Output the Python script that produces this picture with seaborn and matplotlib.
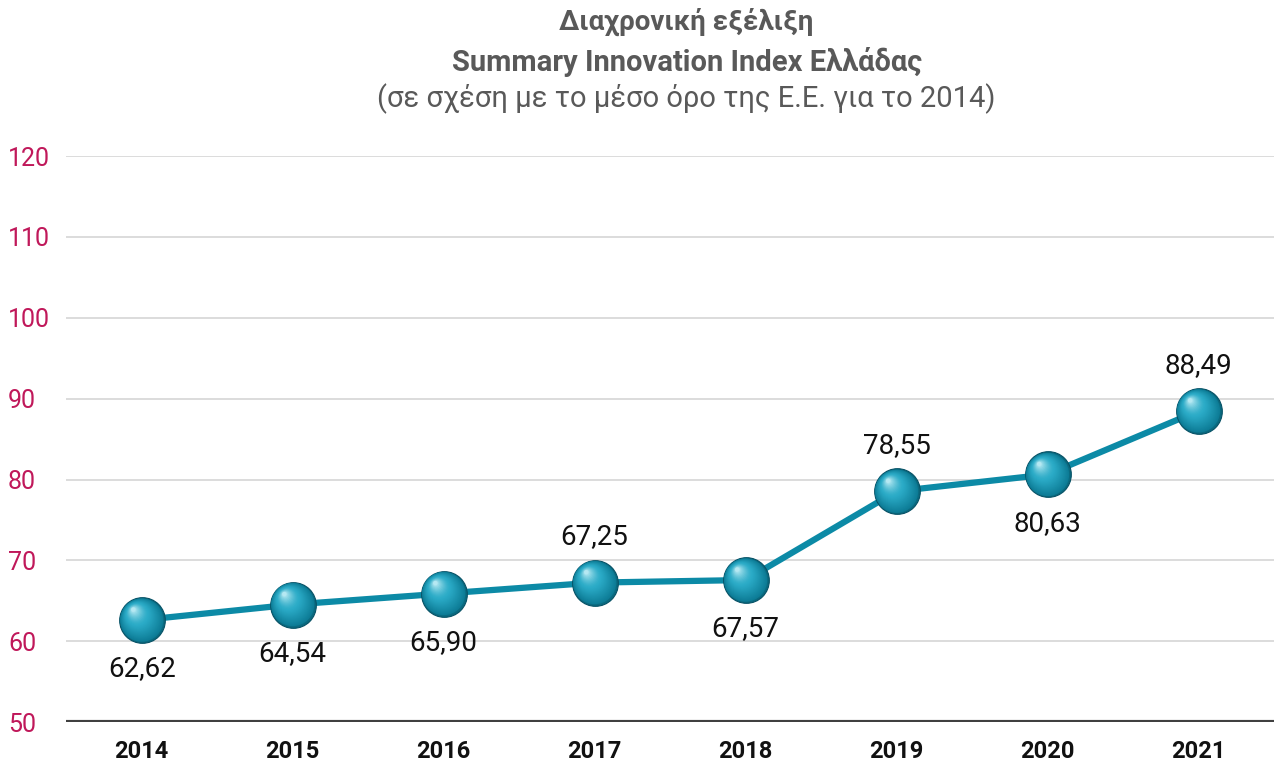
import matplotlib
matplotlib.use("Agg")
import matplotlib.pyplot as plt
import matplotlib.transforms as mtransforms
from matplotlib.colors import to_rgb
import numpy as np
import pandas as pd
import seaborn as sns

years = ["2014", "2015", "2016", "2017", "2018", "2019", "2020", "2021"]
values = [62.62, 64.54, 65.90, 67.25, 67.57, 78.55, 80.63, 88.49]
label_above = [False, False, False, True, False, True, False, True]
y_ticks = [50, 60, 70, 80, 90, 100, 110, 120]

title_lines = ["Διαχρονική εξέλιξη",
               "Summary Innovation Index Ελλάδας",
               "(σε σχέση με το μέσο όρο της Ε.Ε. για το 2014)"]

sns.set_theme(style="white")
plt.rcParams["font.family"] = ["Roboto", "DejaVu Sans"]

df = pd.DataFrame({"year": years, "value": values})
df["pos"] = np.arange(len(years))

fig = plt.figure(figsize=(12.74, 7.69), dpi=100)
ax = fig.add_axes([0.052, 0.061, 0.948, 0.736])

# horizontal grid
for t in y_ticks[1:]:
    ax.axhline(t, color="#D9D9D9", lw=1.3, zorder=0)
ax.axhline(50, color="#404040", lw=3, zorder=1)

line_col = "#0C8AA6"
sns.lineplot(data=df, x="pos", y="value", color=line_col, lw=4.5, ax=ax,
             zorder=2, legend=False)

# shaded sphere markers: dark rim, then a smooth run of lighter discs
# shifted toward the upper left
sns.scatterplot(data=df, x="pos", y="value", s=1080, color="#0A6A80",
                edgecolor="#075266", linewidth=0.8, ax=ax, zorder=3, legend=False)
c0 = np.array(to_rgb("#0D7C96"))
c1 = np.array(to_rgb("#2BABC7"))
c2 = np.array(to_rgb("#B5E8F2"))
n = 28
for i in range(n):
    f = i / (n - 1)
    size = 960 * (1 - f) ** 1.6 + 10
    col = c0 + (c1 - c0) * min(f / 0.55, 1.0)
    if f > 0.55:
        col = c1 + (c2 - c1) * ((f - 0.55) / 0.45) ** 1.5
    dx, dy = 6.0 * f, 7.5 * f
    off = mtransforms.offset_copy(ax.transData, fig=fig, x=-dx, y=dy, units="points")
    ax.scatter(df["pos"], df["value"], s=size, color=tuple(col), edgecolor="none",
               transform=off, zorder=4)

# value labels with decimal comma
for x, v, above in zip(df["pos"], values, label_above):
    txt = f"{v:.2f}".replace(".", ",")
    ax.annotate(txt, (x, v), xytext=(0, 33 if above else -35),
                textcoords="offset points", ha="center", va="center",
                fontsize=20, color="#111111", zorder=5)

ax.set_xlim(-0.5, len(years) - 0.5)
ax.set_ylim(50, 120)
ax.set_yticks(y_ticks)
ax.set_yticklabels([str(t) for t in y_ticks], color="#C0185A", fontsize=18)
ax.set_xticks(df["pos"])
ax.set_xticklabels(years, fontsize=17, fontweight="bold", color="#111111")
ax.tick_params(axis="both", length=0)
ax.tick_params(axis="x", pad=13)
ax.tick_params(axis="y", pad=42)
for lbl in ax.get_yticklabels():
    lbl.set_horizontalalignment("left")
ax.set_xlabel("")
ax.set_ylabel("")
for s in ax.spines.values():
    s.set_visible(False)

fig.text(0.539, 0.971, title_lines[0], ha="center", va="center", fontsize=20,
         fontweight="bold", color="#595959")
fig.text(0.539, 0.919, title_lines[1], ha="center", va="center", fontsize=21,
         fontweight="bold", color="#595959")
fig.text(0.539, 0.872, title_lines[2], ha="center", va="center", fontsize=21,
         color="#595959")

fig.savefig("out.png", dpi=100)
